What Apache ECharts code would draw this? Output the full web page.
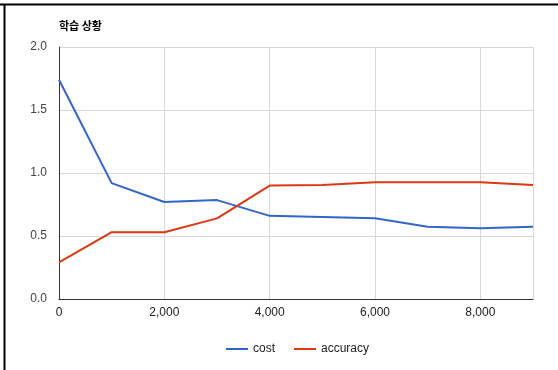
<!DOCTYPE html>
<html><head><meta charset="utf-8">
<script src="https://cdn.jsdelivr.net/npm/echarts@6/dist/echarts.min.js"></script>
<style>html,body{margin:0;padding:0;background:#fff}#c{width:558px;height:370px}</style>
</head><body><div id="c"></div>
<script>
const steps = [0,1000,2000,3000,4000,5000,6000,7000,8000,9000];
const cost = [1.74,0.92,0.77,0.785,0.66,0.65,0.64,0.574,0.561,0.574];
const accuracy = [0.29,0.53,0.53,0.64,0.90,0.905,0.926,0.926,0.926,0.905];
const title = '학습 상황';
const seriesNames = ['cost','accuracy'];

const chart = echarts.init(document.getElementById('c'), null, {renderer:'canvas'});
const font = 'Arial, "Liberation Sans", "Noto Sans CJK KR", sans-serif';
chart.setOption({
  animation:false,
  backgroundColor:'#fff',
  title:{text:title,left:54,top:15,textStyle:{fontSize:11,fontWeight:'bold',color:'#000',fontFamily:'"Noto Sans CJK KR", sans-serif'}},
  legend:{top:338,left:221,itemWidth:22,itemHeight:2,itemGap:19,icon:'rect',
    textStyle:{fontSize:12,color:'#222',fontFamily:font},data:seriesNames},
  grid:{left:59,right:25,top:47,bottom:71,containLabel:false},
  xAxis:{type:'value',min:0,max:9000,interval:2000,
    axisLine:{show:true,lineStyle:{color:'#333',width:1}},
    axisTick:{show:false},
    splitLine:{show:true,lineStyle:{color:'#d8d8d8'}},
    axisLabel:{fontSize:12,color:'#222',fontFamily:font,margin:8,showMaxLabel:false,
      formatter:v=>v.toLocaleString('en-US')}},
  yAxis:{type:'value',min:0,max:2,interval:0.5,
    axisLine:{show:true,lineStyle:{color:'#333',width:1}},
    axisTick:{show:false},
    splitLine:{show:true,lineStyle:{color:'#d8d8d8'}},
    axisLabel:{fontSize:12,color:'#444',fontFamily:font,margin:12,formatter:v=>v.toFixed(1)}},
  graphic:[
    {type:'line',shape:{x1:0,y1:4.5,x2:558,y2:4.5},style:{stroke:'#000',lineWidth:2},z:100},
    {type:'line',shape:{x1:4.5,y1:4,x2:4.5,y2:370},style:{stroke:'#000',lineWidth:2},z:100}
  ],
  series:[
    {name:seriesNames[0],type:'line',data:steps.map((s,i)=>[s,cost[i]]),showSymbol:false,
      lineStyle:{color:'#3366cc',width:2},itemStyle:{color:'#3366cc'}},
    {name:seriesNames[1],type:'line',data:steps.map((s,i)=>[s,accuracy[i]]),showSymbol:false,
      lineStyle:{color:'#dc3912',width:2},itemStyle:{color:'#dc3912'}}
  ]
});
</script></body></html>
